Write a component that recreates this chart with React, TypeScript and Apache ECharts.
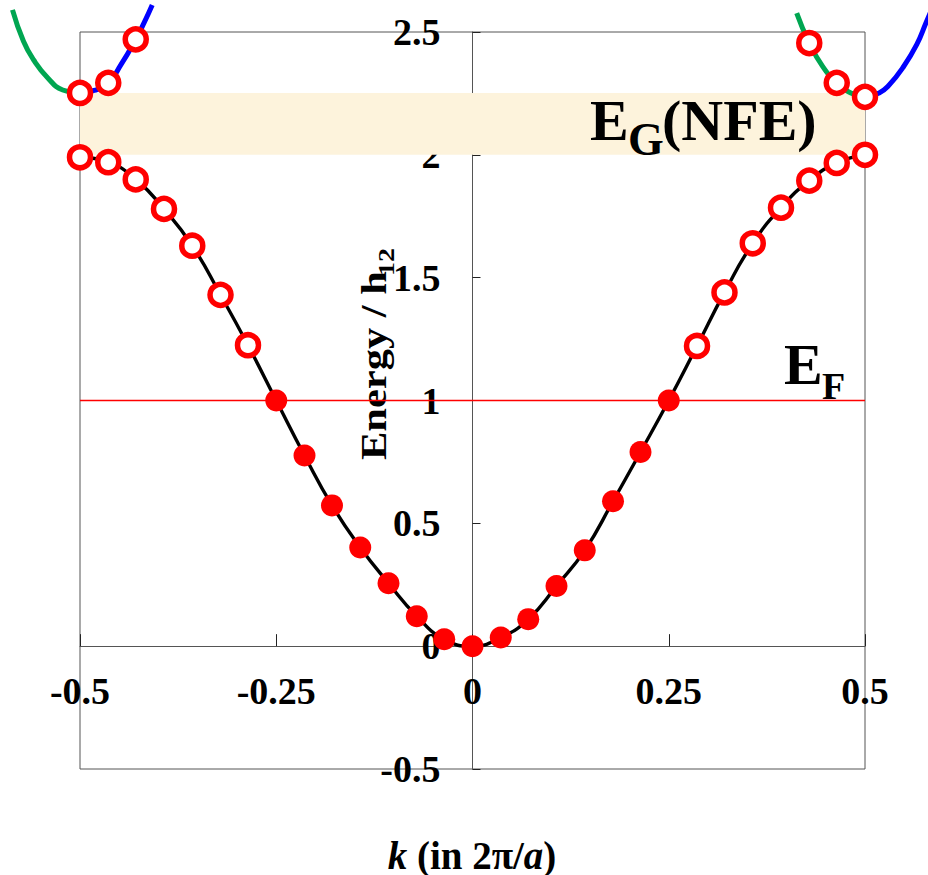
import React, { useEffect, useRef } from "react";
import * as echarts from "echarts";

const FONT = "'Liberation Serif', 'Times New Roman', Times, serif";

// Lower (nearly free / tight binding) band: sampled k points and energies
const kLower = [
  -0.5, -0.464, -0.429, -0.393, -0.357, -0.321, -0.286, -0.25, -0.214, -0.179, -0.143, -0.107, -0.071, -0.036,
  0, 0.036, 0.071, 0.107, 0.143, 0.179, 0.214, 0.25, 0.286, 0.321, 0.357, 0.393, 0.429, 0.464, 0.5,
];
const eLower = [
  1.99, 1.97, 1.9, 1.78, 1.63, 1.43, 1.225, 1.0, 0.776, 0.573, 0.402, 0.256, 0.122, 0.028,
  0, 0.035, 0.11, 0.245, 0.39, 0.59, 0.79, 1.0, 1.222, 1.44, 1.64, 1.785, 1.895, 1.967, 2.0,
];

// Upper band sample points (hollow markers)
const kUpper = [-0.5, -0.464, -0.429, 0.429, 0.464, 0.5];
const eUpper = [2.252, 2.293, 2.47, 2.455, 2.293, 2.236];

// Upper band curves (extend beyond the first Brillouin zone)
const blueLeftK = [-0.5, -0.482, -0.464, -0.448, -0.429, -0.418, -0.408];
const blueLeftE = [2.252, 2.262, 2.293, 2.366, 2.47, 2.54, 2.61];
const greenLeftK = [-0.5, -0.522, -0.541, -0.559, -0.572, -0.586];
const greenLeftE = [2.252, 2.264, 2.313, 2.386, 2.462, 2.59];
const greenRightK = [0.5, 0.482, 0.464, 0.446, 0.429, 0.413];
const greenRightE = [2.236, 2.252, 2.293, 2.36, 2.455, 2.577];
const blueRightK = [0.5, 0.518, 0.531, 0.548, 0.566, 0.578, 0.59];
const blueRightE = [2.236, 2.252, 2.285, 2.354, 2.45, 2.54, 2.63];

// Fermi level and NFE gap
const eFermi = 1;
const gapBottom = 2.0;
const gapTop = 2.252;

// Axis settings
const xMin = -0.5;
const xMax = 0.5;
const xStep = 0.25;
const yMin = -0.5;
const yMax = 2.5;
const yStep = 0.5;

// Layout
const W = 928;
const H = 875;
const G = { left: 80, top: 32, width: 785, height: 737 };

const zip = (a: number[], b: number[]) => a.map((v, i) => [v, b[i]]);

export default function App() {
  const ref = useRef<HTMLDivElement>(null);

  useEffect(() => {
    const chart = echarts.init(ref.current!, null, { renderer: "svg" });
    const lower = zip(kLower, eLower);
    const filled = lower.filter((p) => p[1] <= eFermi + 1e-9);
    const hollow = lower.filter((p) => p[1] > eFermi + 1e-9).concat(zip(kUpper, eUpper));

    // pixel position of zero on each axis -> offsets to put axes through the origin
    const zeroX = G.left + ((0 - xMin) / (xMax - xMin)) * G.width;
    const zeroY = G.top + ((yMax - 0) / (yMax - yMin)) * G.height;
    const yAxisOffset = G.left - zeroX;
    const xAxisOffset = zeroY - (G.top + G.height);

    // overlay grid covering the whole canvas with the same scale (for curves outside the frame)
    const pxPerX = G.width / (xMax - xMin);
    const pxPerY = G.height / (yMax - yMin);
    const x2Min = xMin - G.left / pxPerX;
    const x2Max = xMax + (W - G.left - G.width) / pxPerX;
    const y2Max = yMax + G.top / pxPerY;
    const y2Min = yMin - (H - G.top - G.height) / pxPerY;

    const upperLine = (data: number[][], color: string) => ({
      type: "line",
      xAxisIndex: 1,
      yAxisIndex: 1,
      data,
      smooth: true,
      showSymbol: false,
      symbol: "none",
      clip: false,
      z: 3,
      lineStyle: { color, width: 5 },
    });

    const labelStyle = {
      color: "#000",
      fontFamily: FONT,
      fontWeight: "bold",
      fontSize: 38,
      showMinLabel: true,
      showMaxLabel: true,
    };

    const option: any = {
      animation: false,
      backgroundColor: "#ffffff",
      grid: [
        {
          left: G.left,
          top: G.top,
          width: G.width,
          height: G.height,
          containLabel: false,
          outerBoundsMode: "none",
          show: true,
          borderColor: "#555",
          borderWidth: 1,
          backgroundColor: "transparent",
        },
        {
          left: 0,
          top: 0,
          width: W,
          height: H,
          containLabel: false,
          outerBoundsMode: "none",
          show: false,
        },
      ],
      xAxis: [
        {
          type: "value",
          gridIndex: 0,
          min: xMin,
          max: xMax,
          interval: xStep,
          offset: xAxisOffset,
          axisLine: { onZero: false, lineStyle: { color: "#555", width: 1 } },
          axisTick: { inside: true, length: 12, lineStyle: { color: "#222", width: 1 } },
          splitLine: { show: false },
          axisLabel: { ...labelStyle, margin: 26 },
        },
        {
          type: "value",
          gridIndex: 1,
          min: x2Min,
          max: x2Max,
          show: false,
          splitLine: { show: false },
        },
      ],
      yAxis: [
        {
          type: "value",
          gridIndex: 0,
          min: yMin,
          max: yMax,
          interval: yStep,
          offset: yAxisOffset,
          axisLine: { onZero: false, lineStyle: { color: "#555", width: 1 } },
          axisTick: { inside: true, length: 8, lineStyle: { color: "#222", width: 1 } },
          splitLine: { show: false },
          axisLabel: { ...labelStyle, margin: 32 },
        },
        {
          type: "value",
          gridIndex: 1,
          min: y2Min,
          max: y2Max,
          show: false,
          splitLine: { show: false },
        },
      ],
      series: [
        {
          type: "line",
          name: "EF",
          data: [
            [xMin, eFermi],
            [xMax, eFermi],
          ],
          symbol: "none",
          z: 2,
          lineStyle: { color: "#ff0000", width: 1.5 },
          markArea: {
            silent: true,
            itemStyle: { color: "#fdf3dc", opacity: 1 },
            data: [[{ xAxis: xMin, yAxis: gapBottom }, { xAxis: xMax, yAxis: gapTop }]],
          },
        },
        {
          type: "line",
          name: "lower band",
          data: lower,
          smooth: true,
          showSymbol: false,
          symbol: "none",
          z: 3,
          lineStyle: { color: "#000", width: 3.4 },
        },
        upperLine(zip(greenLeftK, greenLeftE), "#00a651"),
        upperLine(zip(blueLeftK, blueLeftE), "#0000ff"),
        upperLine(zip(greenRightK, greenRightE), "#00a651"),
        upperLine(zip(blueRightK, blueRightE), "#0000ff"),
        {
          type: "scatter",
          name: "occupied",
          data: filled,
          symbol: "circle",
          symbolSize: 22,
          clip: false,
          z: 5,
          itemStyle: { color: "#ff0000", opacity: 1 },
        },
        {
          type: "scatter",
          name: "empty",
          data: hollow,
          symbol: "circle",
          symbolSize: 21,
          clip: false,
          z: 6,
          itemStyle: { color: "#ffffff", borderColor: "#ff0000", borderWidth: 5.5, opacity: 1 },
        },
      ],
      graphic: [
        // E_G(NFE)
        {
          type: "text",
          x: 590,
          y: 120,
          z: 10,
          style: { text: "E", fontFamily: FONT, fontWeight: "bold", fontSize: 58, fill: "#000", align: "left", verticalAlign: "middle" },
        },
        {
          type: "text",
          x: 628,
          y: 139,
          z: 10,
          style: { text: "G", fontFamily: FONT, fontWeight: "bold", fontSize: 46, fill: "#000", align: "left", verticalAlign: "middle" },
        },
        {
          type: "text",
          x: 662,
          y: 120,
          z: 10,
          style: { text: "(NFE)", fontFamily: FONT, fontWeight: "bold", fontSize: 58, fill: "#000", align: "left", verticalAlign: "middle" },
        },
        // E_F
        {
          type: "text",
          x: 784,
          y: 364,
          z: 10,
          style: { text: "E", fontFamily: FONT, fontWeight: "bold", fontSize: 58, fill: "#000", align: "left", verticalAlign: "middle" },
        },
        {
          type: "text",
          x: 822,
          y: 386,
          z: 10,
          style: { text: "F", fontFamily: FONT, fontWeight: "bold", fontSize: 38, fill: "#000", align: "left", verticalAlign: "middle" },
        },
        // y-axis title (rotated)
        {
          type: "group",
          x: 374,
          y: 460,
          rotation: Math.PI / 2,
          scaleY: 0.85,
          z: 10,
          children: [
            {
              type: "text",
              x: 0,
              y: 0,
              style: { text: "Energy / h", fontFamily: FONT, fontWeight: "bold", fontSize: 42.5, fill: "#000", align: "left", verticalAlign: "middle" },
            },
            {
              type: "text",
              x: 184,
              y: 14,
              style: { text: "12", fontFamily: FONT, fontWeight: "bold", fontSize: 28, fill: "#000", align: "left", verticalAlign: "middle" },
            },
          ],
        },
        // x-axis title
        {
          type: "text",
          x: 472,
          y: 855,
          z: 10,
          style: {
            text: "{i|k} (in 2π/{i|a})",
            fontFamily: FONT,
            fontWeight: "bold",
            fontSize: 39,
            fill: "#000",
            align: "center",
            verticalAlign: "middle",
            rich: {
              i: { fontFamily: FONT, fontWeight: "bold", fontStyle: "italic", fontSize: 39, fill: "#000" },
            },
          },
        },
      ],
    };

    chart.setOption(option);
    return () => chart.dispose();
  }, []);

  return (
    <div
      ref={ref}
      style={{ position: "absolute", left: 0, top: 0, width: W, height: H, background: "#fff" }}
    />
  );
}
